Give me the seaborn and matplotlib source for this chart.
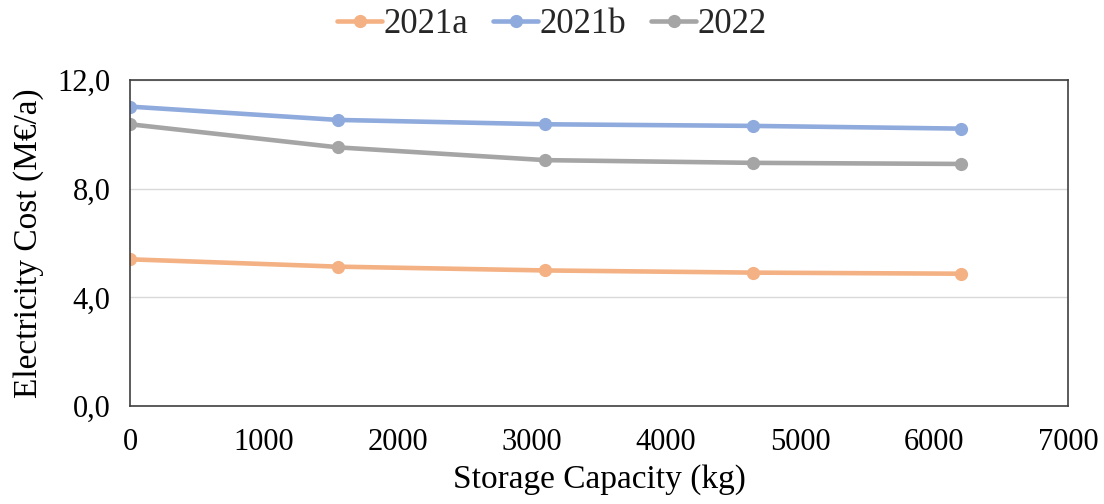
import matplotlib
matplotlib.use("Agg")
import matplotlib.pyplot as plt
import seaborn as sns
import pandas as pd
from matplotlib.ticker import FuncFormatter, MultipleLocator

# Storage capacity (kg) and yearly electricity cost (M€/a) per scenario
capacity = [0, 1550, 3100, 4650, 6200]
cost_2021a = [5.40, 5.13, 4.99, 4.91, 4.87]
cost_2021b = [11.02, 10.53, 10.37, 10.31, 10.21]
cost_2022 = [10.37, 9.52, 9.05, 8.95, 8.91]
series_names = ["2021a", "2021b", "2022"]
colors = ["#F4B183", "#8FAADC", "#A5A5A5"]

df = pd.DataFrame({
    "capacity": capacity * 3,
    "cost": cost_2021a + cost_2021b + cost_2022,
    "scenario": [n for n in series_names for _ in capacity],
})

sns.set_theme(style="white")
plt.rcParams["font.family"] = ["Liberation Serif", "DejaVu Serif"]

fig = plt.figure(figsize=(11.04, 5.04), dpi=100)
ax = fig.add_axes([0.1178, 0.1944, 0.8496, 0.6469])

sns.lineplot(
    data=df, x="capacity", y="cost", hue="scenario",
    palette=dict(zip(series_names, colors)),
    marker="o", markersize=9.5, markeredgewidth=0, linewidth=3.3,
    ax=ax, legend=True,
)

ax.set_xlim(0, 7000)
ax.set_ylim(0, 12)
ax.xaxis.set_major_locator(MultipleLocator(1000))
ax.yaxis.set_major_locator(MultipleLocator(4))
ax.yaxis.set_major_formatter(FuncFormatter(lambda v, _: f"{v:.1f}".replace(".", ",")))
ax.grid(axis="y", color="#D9D9D9", linewidth=1)
ax.set_axisbelow(True)
for s in ax.spines.values():
    s.set_visible(True)
    s.set_color("#404040")
    s.set_linewidth(1.2)

ax.tick_params(axis="both", length=0, labelsize=22, colors="black")
ax.tick_params(axis="x", pad=16)
ax.tick_params(axis="y", pad=14)
ax.set_xlabel("Storage Capacity (kg)", fontsize=24, color="black", labelpad=5)
ax.set_ylabel("Electricity Cost (M€/a)", fontsize=24, color="black", labelpad=10)

# Legend centred across the whole figure, above the plot area
handles, labels = ax.get_legend_handles_labels()
ax.get_legend().remove()
fig.legend(handles, labels, loc="upper center", bbox_to_anchor=(0.5, 1.018),
           ncol=3, frameon=False, fontsize=25, handlelength=1.3,
           handletextpad=0.05, columnspacing=0.7, borderaxespad=0.1)

fig.savefig("out.png", dpi=100)
